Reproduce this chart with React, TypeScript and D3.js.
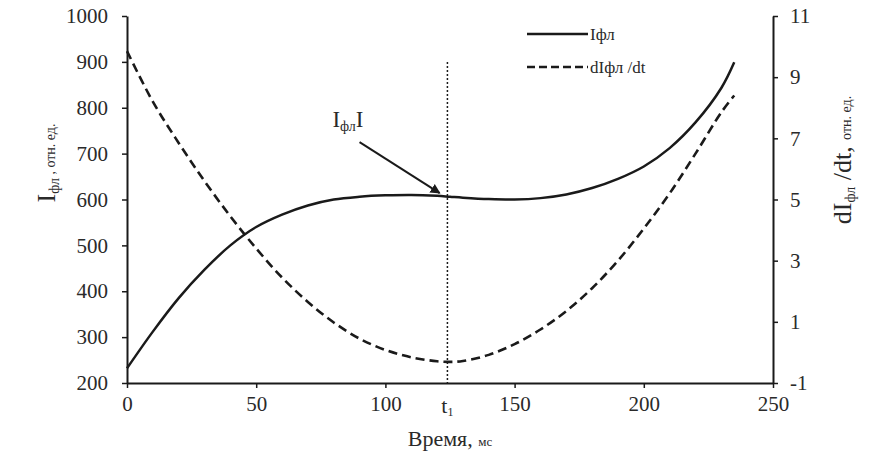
import { useEffect, useRef } from 'react'
import * as d3 from 'd3'

// time, ms
const times = [0, 10, 20, 30, 40, 50, 60, 70, 80, 90, 100, 110, 120, 125, 130, 140, 150, 160, 170, 180, 190, 200, 210, 220, 230, 235]
// I фл, отн. ед. (left axis)
const intensity = [232, 312, 385, 447, 500, 540, 567, 587, 600, 606, 609, 610, 608, 606, 604, 601, 600, 603, 611, 625, 645, 672, 712, 768, 843, 899]
// dI фл/dt, отн. ед. (right axis)
const derivative = [9.85, 8.2, 6.85, 5.6, 4.45, 3.4, 2.45, 1.65, 0.98, 0.45, 0.08, -0.16, -0.29, -0.31, -0.28, -0.08, 0.27, 0.75, 1.35, 2.1, 3.0, 4.05, 5.2, 6.5, 7.85, 8.4]

const xTicks = [0, 50, 100, 150, 200, 250]
const leftTicks = [200, 300, 400, 500, 600, 700, 800, 900, 1000]
const rightTicks = [-1, 1, 3, 5, 7, 9, 11]

const t1 = 124
const font = "'Liberation Serif', 'Times New Roman', Times, serif"
const ink = '#1a1a1a'
const textInk = '#2a2a2a'

export default function App() {
  const svgRef = useRef<SVGSVGElement>(null)

  useEffect(() => {
    if (!svgRef.current) return
    const width = 876
    const height = 461
    const margin = { top: 16, right: 103, bottom: 78, left: 127 }

    const svg = d3.select(svgRef.current)
    svg.selectAll('*').remove()
    svg.attr('width', width).attr('height', height)

    const innerWidth = width - margin.left - margin.right
    const innerHeight = height - margin.top - margin.bottom

    const g = svg.append('g').attr('transform', `translate(${margin.left},${margin.top})`)

    const x = d3.scaleLinear().domain([0, 250]).range([0, innerWidth])
    const yL = d3.scaleLinear().domain([200, 1000]).range([innerHeight, 0])
    const yR = d3.scaleLinear().domain([-1, 11]).range([innerHeight, 0])

    const fmt = (d: d3.NumberValue) => String(d)

    const styleAxis = (sel: d3.Selection<SVGGElement, unknown, null, undefined>) => {
      sel.attr('font-family', null).attr('font-size', null)
      sel.selectAll('.domain').attr('stroke', ink).attr('stroke-width', 2)
      sel.selectAll('.tick line').attr('stroke', ink).attr('stroke-width', 1.5)
      sel.selectAll('.tick text')
        .style('font-family', font)
        .style('font-size', '21px')
        .attr('fill', textInk)
    }

    // axes
    const xAxis = g.append('g')
      .attr('transform', `translate(0,${innerHeight})`)
      .call(d3.axisBottom(x).tickValues(xTicks).tickFormat(fmt).tickSize(5).tickSizeOuter(0).tickPadding(8))
    styleAxis(xAxis)

    const leftAxis = g.append('g')
      .call(d3.axisLeft(yL).tickValues(leftTicks).tickFormat(fmt).tickSize(5).tickSizeOuter(0).tickPadding(14))
    styleAxis(leftAxis)

    const rightAxis = g.append('g')
      .attr('transform', `translate(${innerWidth},0)`)
      .call(d3.axisRight(yR).tickValues(rightTicks).tickFormat(fmt).tickSize(5).tickSizeOuter(0).tickPadding(12))
    styleAxis(rightAxis)

    // t1 marker
    g.append('line')
      .attr('x1', x(t1))
      .attr('x2', x(t1))
      .attr('y1', yL(900))
      .attr('y2', innerHeight)
      .attr('stroke', ink)
      .attr('stroke-width', 1.5)
      .attr('stroke-dasharray', '2,2')

    const t1Label = g.append('text')
      .attr('x', x(t1))
      .attr('y', innerHeight + 30)
      .attr('text-anchor', 'middle')
      .style('font-family', font)
      .style('font-size', '22px')
      .attr('fill', textInk)
    t1Label.append('tspan').text('t')
    t1Label.append('tspan').style('font-size', '12px').attr('dy', 3).text('1')

    // curves
    const lineI = d3.line<number>()
      .x((_, i) => x(times[i]))
      .y(d => yL(d))
      .curve(d3.curveCatmullRom.alpha(0.5))

    const lineD = d3.line<number>()
      .x((_, i) => x(times[i]))
      .y(d => yR(d))
      .curve(d3.curveCatmullRom.alpha(0.5))

    g.append('path')
      .datum(derivative)
      .attr('d', lineD)
      .attr('fill', 'none')
      .attr('stroke', ink)
      .attr('stroke-width', 2.6)
      .attr('stroke-dasharray', '9,5')

    g.append('path')
      .datum(intensity)
      .attr('d', lineI)
      .attr('fill', 'none')
      .attr('stroke', ink)
      .attr('stroke-width', 2.5)

    // annotation arrow
    svg.append('defs').append('marker')
      .attr('id', 'arrowhead')
      .attr('viewBox', '0 0 10 10')
      .attr('refX', 9)
      .attr('refY', 5)
      .attr('markerWidth', 5)
      .attr('markerHeight', 5)
      .attr('orient', 'auto')
      .append('path')
      .attr('d', 'M0,0 L10,5 L0,10 Z')
      .attr('fill', ink)

    g.append('line')
      .attr('x1', x(90))
      .attr('y1', yL(725))
      .attr('x2', x(121))
      .attr('y2', yL(614))
      .attr('stroke', ink)
      .attr('stroke-width', 2)
      .attr('marker-end', 'url(#arrowhead)')

    const ann = g.append('text')
      .attr('x', x(79.5))
      .attr('y', yL(757))
      .style('font-family', font)
      .style('font-size', '23px')
      .attr('fill', textInk)
    ann.append('tspan').text('I')
    ann.append('tspan').style('font-size', '14px').attr('dy', 4).text('фл')
    ann.append('tspan').attr('dy', -4).text('I')

    // axis titles
    const xTitle = g.append('text')
      .attr('x', innerWidth / 2)
      .attr('y', innerHeight + 63)
      .attr('text-anchor', 'middle')
      .style('font-family', font)
      .style('font-size', '22px')
      .attr('fill', textInk)
    xTitle.append('tspan').text('Время, ')
    xTitle.append('tspan').style('font-size', '13px').text('мс')

    const leftTitle = svg.append('text')
      .attr('transform', 'translate(55,163) rotate(-90)')
      .attr('text-anchor', 'middle')
      .style('font-family', font)
      .style('font-size', '26px')
      .attr('fill', textInk)
    leftTitle.append('tspan').text('I')
    leftTitle.append('tspan').style('font-size', '14px').attr('dy', 4).text('фл')
    leftTitle.append('tspan').style('font-size', '14px').attr('dy', -4).text(' , отн. ед.')

    const rightTitle = svg.append('text')
      .attr('transform', 'translate(851,160) rotate(-90)')
      .attr('text-anchor', 'middle')
      .style('font-family', font)
      .style('font-size', '26px')
      .attr('fill', textInk)
    rightTitle.append('tspan').text('dI')
    rightTitle.append('tspan').style('font-size', '14px').attr('dy', 4).text('фл')
    rightTitle.append('tspan').attr('dy', -4).text(' /dt, ')
    rightTitle.append('tspan').style('font-size', '14px').text('отн. ед.')

    // legend
    const legend = svg.append('g').attr('transform', 'translate(527,34)')
    const items = [
      { label: 'Iфл', dash: null as string | null },
      { label: 'dIфл /dt', dash: '8,4' },
    ]
    items.forEach((it, i) => {
      const row = legend.append('g').attr('transform', `translate(0,${i * 33})`)
      row.append('line')
        .attr('x1', 0)
        .attr('x2', 61)
        .attr('stroke', ink)
        .attr('stroke-width', 2.5)
        .attr('stroke-dasharray', it.dash)
      row.append('text')
        .attr('x', 63)
        .attr('y', 6)
        .style('font-family', font)
        .style('font-size', '17px')
        .attr('fill', textInk)
        .text(it.label)
    })
  }, [])

  return (
    <div style={{ position: 'absolute', left: 0, top: 0, background: '#fff' }}>
      <svg ref={svgRef} style={{ display: 'block' }} />
    </div>
  )
}
